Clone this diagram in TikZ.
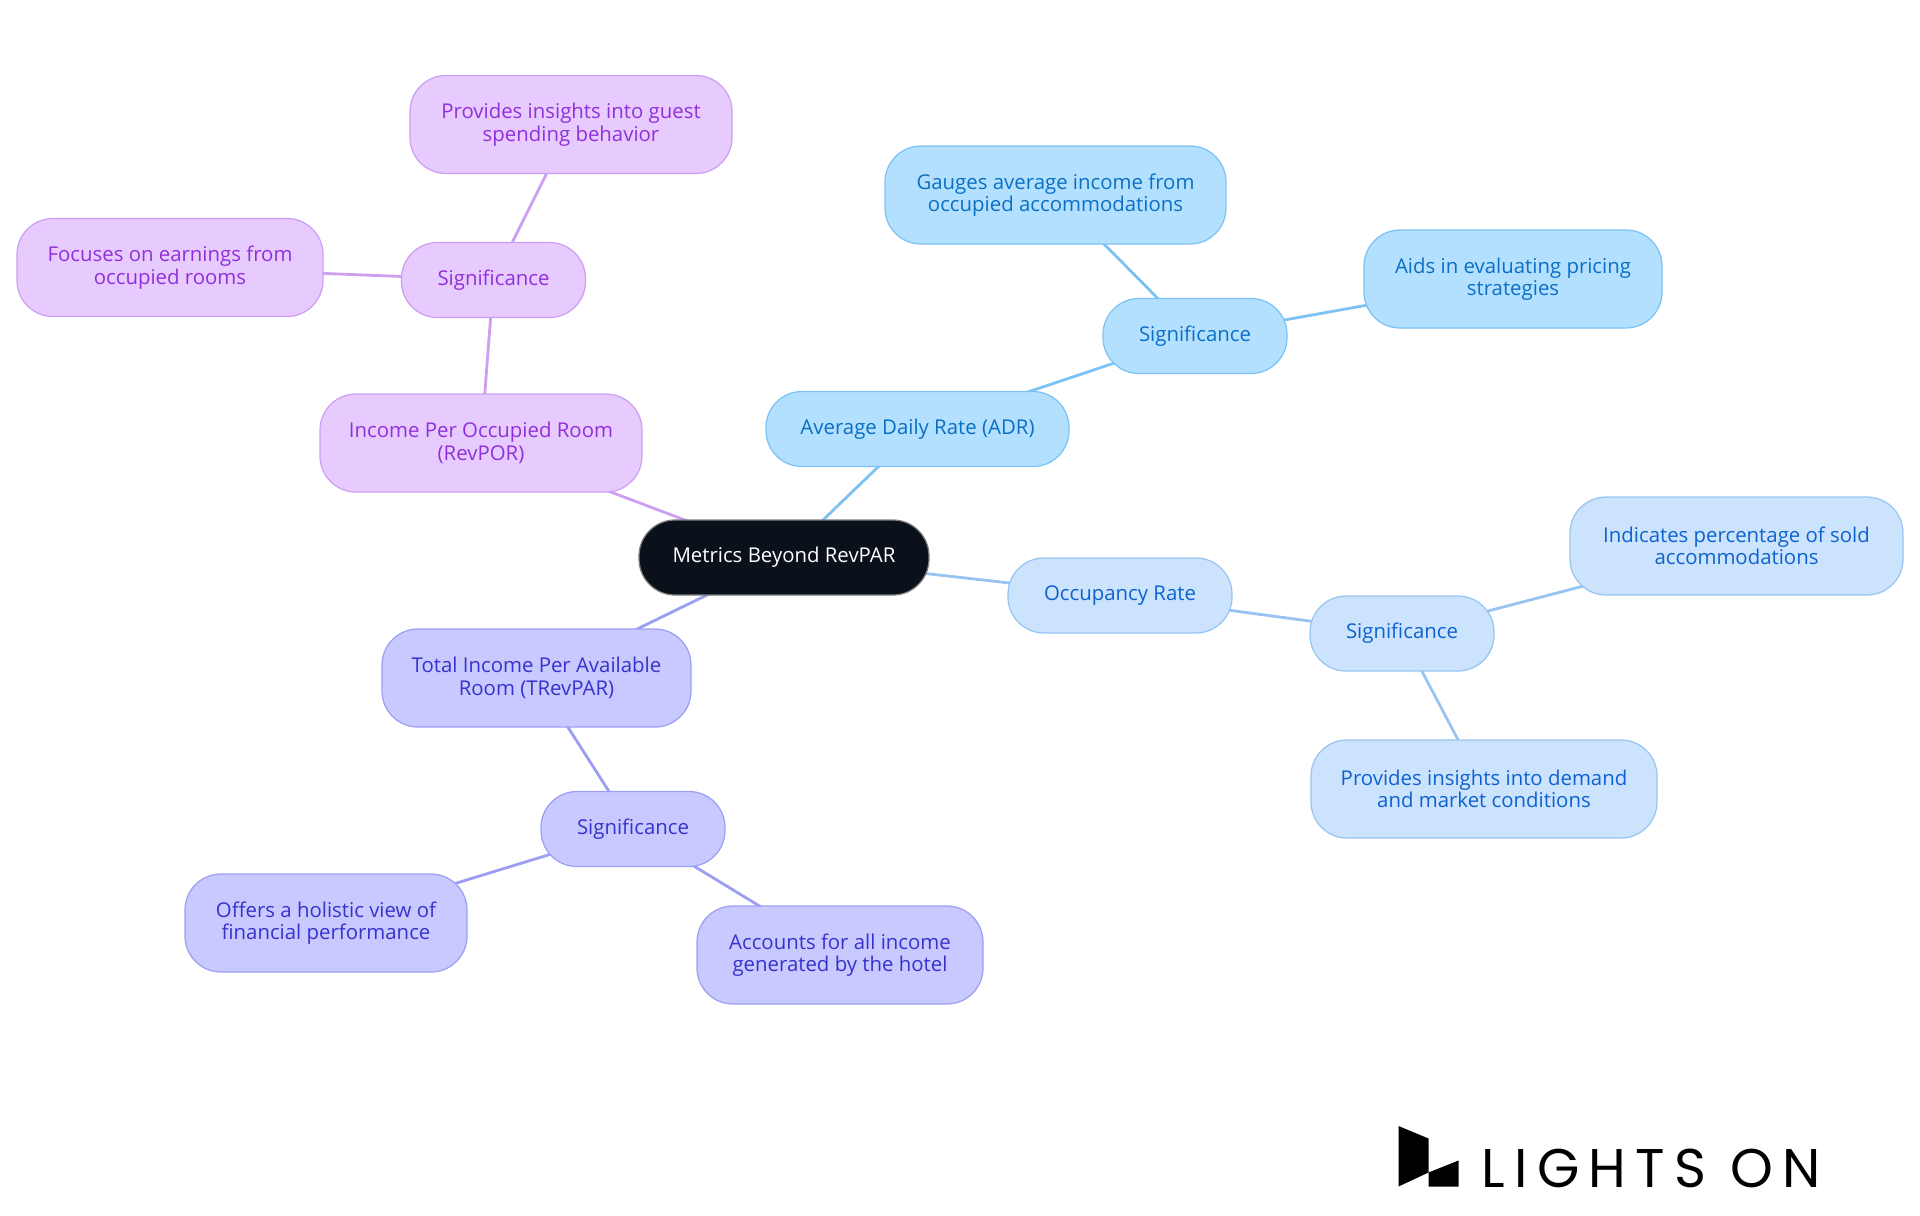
\documentclass[tikz,border=0pt]{standalone}
\usepackage{fontspec}
\setmainfont{Open Sans}
\newfontfamily\logofont[LetterSpace=17]{Poppins}
\usetikzlibrary{positioning,backgrounds}

\definecolor{rootfill}{HTML}{0B111A}
\definecolor{adrfill}{HTML}{B3E0FF}
\definecolor{adrline}{HTML}{7CC2F2}
\definecolor{adrtext}{HTML}{0B6FC4}
\definecolor{occfill}{HTML}{CCE3FD}
\definecolor{occline}{HTML}{98C4F2}
\definecolor{occtext}{HTML}{0D62CF}
\definecolor{trvfill}{HTML}{C8CAFF}
\definecolor{trvline}{HTML}{9C9EF2}
\definecolor{trvtext}{HTML}{3A30CC}
\definecolor{porfill}{HTML}{E7CBFF}
\definecolor{porline}{HTML}{CD9FF2}
\definecolor{portext}{HTML}{9030DA}

\tikzset{
  mapnode/.style={draw, line width=0.7pt, rounded corners=0.72cm, align=center, inner sep=0pt, minimum height=1.96cm},
  sig/.style={minimum width=3.68cm, minimum height=1.5cm},
  adrnode/.style={mapnode, fill=adrfill, draw=adrline, text=adrtext},
  occnode/.style={mapnode, fill=occfill, draw=occline, text=occtext},
  trvnode/.style={mapnode, fill=trvfill, draw=trvline, text=trvtext},
  pornode/.style={mapnode, fill=porfill, draw=porline, text=portext},
  link/.style={line width=1.6pt}
}

\begin{document}
\begin{tikzpicture}[on grid, every node/.style={font=\fontsize{11.6}{12.8}\selectfont}]
\useasboundingbox (0,0) rectangle (38.4,-24.3);

\node[mapnode, fill=rootfill, draw=gray, text=white, minimum width=5.8cm, minimum height=1.5cm] (root) at (15.68,-11.15) {Metrics Beyond RevPAR};

% ADR branch
\node[adrnode, minimum width=6.06cm, minimum height=1.5cm, above right=2.57cm and 2.67cm of root] (adr) {Average Daily Rate (ADR)};
\node[adrnode, sig, above right=1.86cm and 5.55cm of adr] (sigadr) {Significance};
\node[adrnode, minimum width=6.82cm, above left=2.82cm and 2.79cm of sigadr] (gauges) {Gauges average income from\\occupied accommodations};
\node[adrnode, minimum width=5.96cm, above right=1.14cm and 6.36cm of sigadr] (aids) {Aids in evaluating pricing\\strategies};

% occupancy branch
\node[occnode, minimum width=4.48cm, minimum height=1.5cm, below right=0.76cm and 6.72cm of root] (occ) {Occupancy Rate};
\node[occnode, sig, below right=0.76cm and 5.64cm of occ] (sigocc) {Significance};
\node[occnode, minimum width=6.66cm, above right=1.75cm and 6.69cm of sigocc] (sold) {Indicates percentage of sold\\accommodations};
\node[occnode, minimum width=6.92cm, below right=3.11cm and 1.64cm of sigocc] (demand) {Provides insights into demand\\and market conditions};

% TRevPAR branch
\node[trvnode, minimum width=6.18cm, below left=2.41cm and 4.95cm of root] (trev) {Total Income Per Available\\Room (TRevPAR)};
\node[trvnode, sig, below right=3.02cm and 1.93cm of trev] (sigtrev) {Significance};
\node[trvnode, minimum width=5.64cm, below left=1.88cm and 6.14cm of sigtrev] (holistic) {Offers a holistic view of\\financial performance};
\node[trvnode, minimum width=5.72cm, below right=2.52cm and 4.14cm of sigtrev] (accounts) {Accounts for all income\\generated by the hotel};

% RevPOR branch
\node[pornode, minimum width=6.44cm, above left=2.29cm and 6.06cm of root] (por) {Income Per Occupied Room\\(RevPOR)};
\node[pornode, sig, above right=3.26cm and 0.25cm of por] (sigpor) {Significance};
\node[pornode, minimum width=6.44cm, above right=3.11cm and 1.55cm of sigpor] (guest) {Provides insights into guest\\spending behavior};
\node[pornode, minimum width=6.12cm, above left=0.25cm and 6.47cm of sigpor] (earn) {Focuses on earnings from\\occupied rooms};

\begin{scope}[on background layer]
\draw[link, adrline] (root.center) -- (adr.center);
\draw[link, adrline] (adr.center) -- (sigadr.center);
\draw[link, adrline] (sigadr.center) -- (gauges.center);
\draw[link, adrline] (sigadr.center) -- (aids.center);
\draw[link, occline] (root.center) -- (occ.center);
\draw[link, occline] (occ.center) -- (sigocc.center);
\draw[link, occline] (sigocc.center) -- (sold.center);
\draw[link, occline] (sigocc.center) -- (demand.center);
\draw[link, trvline] (root.center) -- (trev.center);
\draw[link, trvline] (trev.center) -- (sigtrev.center);
\draw[link, trvline] (sigtrev.center) -- (holistic.center);
\draw[link, trvline] (sigtrev.center) -- (accounts.center);
\draw[link, porline] (root.center) -- (por.center);
\draw[link, porline] (por.center) -- (sigpor.center);
\draw[link, porline] (sigpor.center) -- (guest.center);
\draw[link, porline] (sigpor.center) -- (earn.center);
\end{scope}

% logo
\fill[black] (27.97,-22.52) -- (28.57,-22.77) -- (28.57,-23.45) -- (27.97,-23.73) -- cycle;
\fill[black] (28.57,-23.45) -- (29.17,-23.21) -- (29.17,-23.73) -- (28.57,-23.73) -- cycle;
\node[anchor=base west, inner sep=0pt, font=\logofont\fontsize{31}{31}\selectfont] (logo) at (29.63,-23.74) {LIGHTS ON};
\end{tikzpicture}
\end{document}
